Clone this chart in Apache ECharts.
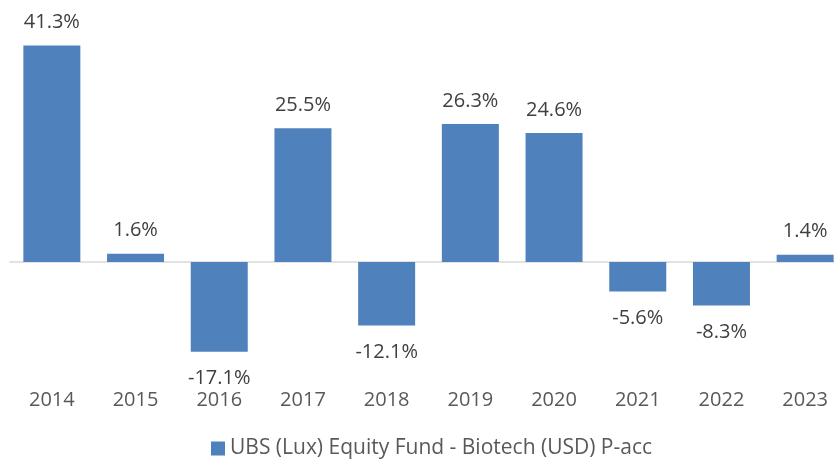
<!DOCTYPE html>
<html>
<head>
<meta charset="utf-8">
<script src="https://cdn.jsdelivr.net/npm/echarts@6/dist/echarts.min.js"></script>
<style>
  html, body { margin: 0; padding: 0; background: #fff; }
  #chart { width: 834px; height: 463px; }
</style>
</head>
<body>
<div id="chart"></div>
<script>
var years = ['2014', '2015', '2016', '2017', '2018', '2019', '2020', '2021', '2022', '2023'];
var returns = [41.3, 1.6, -17.1, 25.5, -12.1, 26.3, 24.6, -5.6, -8.3, 1.4];
var seriesName = 'UBS (Lux) Equity Fund - Biotech (USD) P-acc';

var font = '"Open Sans", sans-serif';
var myChart = echarts.init(document.getElementById('chart'));

var barData = returns.map(function (v) {
  return { value: v, label: { position: v < 0 ? 'bottom' : 'top', distance: v < 0 ? 17 : 13 } };
});

var option = {
  animation: false,
  color: ['#4f81bd'],
  textStyle: { fontFamily: font },
  legend: {
    top: 433,
    left: 206,
    icon: 'rect',
    itemWidth: 14,
    itemHeight: 14,
    itemGap: 6,
    textStyle: { fontSize: 21, color: '#595959', fontFamily: font },
    data: [seriesName]
  },
  grid: { left: 10, right: -13, top: 26, bottom: 96, outerBoundsMode: 'none' },
  xAxis: [
    {
      type: 'category',
      data: years,
      position: 'bottom',
      axisLine: { show: false, onZero: false },
      axisTick: { show: false },
      axisLabel: { fontSize: 20, color: '#595959', margin: 23, fontFamily: font }
    },
    {
      type: 'category',
      data: years,
      position: 'bottom',
      axisLine: { show: true, onZero: true, lineStyle: { color: '#d9d9d9', width: 1.5 } },
      axisTick: { show: false },
      axisLabel: { show: false }
    }
  ],
  yAxis: {
    type: 'value',
    min: -20,
    max: 45,
    show: false,
    splitLine: { show: false }
  },
  series: [
    {
      name: seriesName,
      type: 'bar',
      barWidth: 57,
      data: barData,
      label: {
        show: true,
        fontSize: 20,
        color: '#404040',
        fontFamily: font,
        formatter: function (p) { return p.value.toFixed(1) + '%'; }
      }
    }
  ]
};
myChart.setOption(option, true);
window.addEventListener('resize', function () { myChart.resize(); });
</script>
</body>
</html>
